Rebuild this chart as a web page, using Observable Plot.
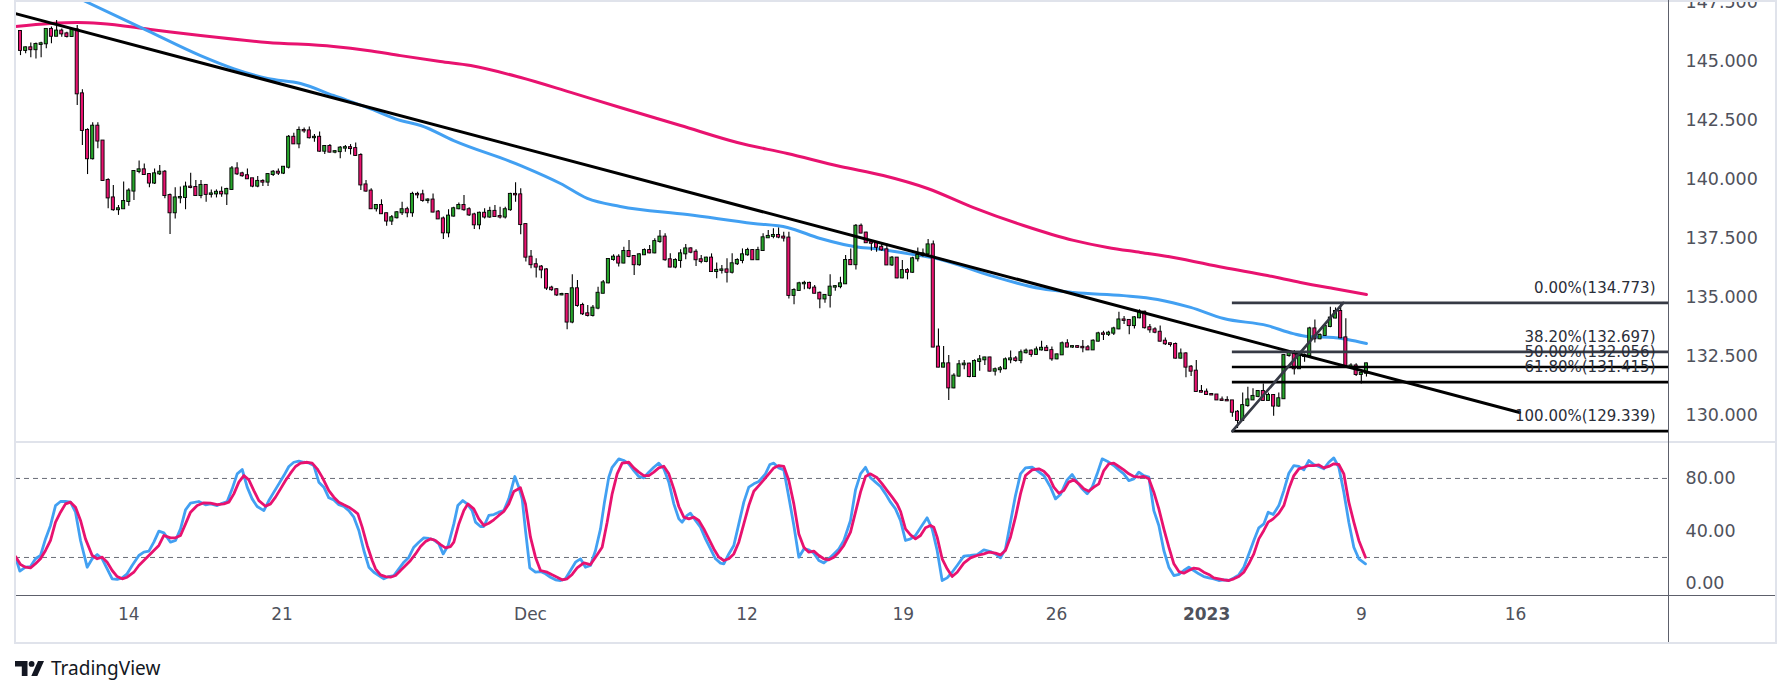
<!DOCTYPE html>
<html><head><meta charset="utf-8">
<script src="https://cdn.jsdelivr.net/npm/d3@7"></script>
<script src="https://cdn.jsdelivr.net/npm/@observablehq/plot@0.6"></script>
<style>
body{margin:0;background:#fff;}
#wrap{position:relative;width:1791px;height:696px;overflow:hidden;background:#fff;}
.abs{position:absolute;}
.ln{position:absolute;}
</style></head><body>
<div id="wrap">
  <div id="price" class="abs" style="left:0;top:0"></div>
  <div id="osc" class="abs" style="left:0;top:442px"></div>
  <div class="ln" style="left:14px;top:0;width:1763px;height:644px;box-sizing:border-box;border:2px solid #e0e3eb;"></div>
  <div class="ln" style="left:16px;top:441px;width:1759px;height:2px;background:#e0e3eb;"></div>
  <div class="ln" style="left:1668px;top:0;width:1px;height:642px;background:#5d606b;"></div>
  <div class="ln" style="left:16px;top:595px;width:1759px;height:1px;background:#5d606b;"></div>
  <div class="abs" style="left:15px;top:657px;display:flex;align-items:center;gap:7px;">
    <svg width="29" height="15" viewBox="0 0 29 15"><path d="M0 0H12.5V15H6.8V5.6H0Z" fill="#131722"/><circle cx="16.6" cy="2.9" r="2.9" fill="#131722"/><path d="M23 0H29L22.3 15H16.3Z" fill="#131722"/></svg>
    <span style="font:19px 'Noto Sans',sans-serif;color:#131722;line-height:22px;">TradingView</span>
  </div>
</div>
<script>
// ---- data (4h USD/JPY candles, bar index 0..261) ----
const firstOpen = 146.27;
const close = [145.47,145.58,145.50,145.72,145.75,146.36,146.07,146.29,146.17,146.06,
146.34,143.63,142.08,140.88,142.26,141.63,139.96,139.22,138.72,138.76,
139.07,139.51,140.34,140.41,140.21,139.85,140.24,140.31,139.32,138.59,
139.22,139.24,139.68,139.66,139.32,139.75,139.37,139.39,139.46,139.39,
139.58,140.45,140.24,140.16,140.03,139.72,139.92,139.89,140.21,140.31,
140.27,140.52,141.79,141.51,142.08,142.06,141.77,141.79,141.20,141.40,
141.16,141.18,141.33,141.35,141.31,141.02,139.77,139.51,138.76,138.90,
138.55,138.24,138.38,138.59,138.72,138.59,139.37,139.35,139.11,139.13,
138.62,138.33,
137.74,138.45,138.76,138.90,138.72,138.50,138.08,138.57,138.41,138.65,
138.43,138.41,138.72,139.37,139.35,138.09,136.71,136.39,136.29,136.17,
135.40,135.33,135.11,135.13,133.96,135.37,134.66,134.31,134.24,134.55,
135.18,135.62,136.61,136.71,136.46,136.95,136.74,136.39,136.81,136.99,
136.89,137.37,137.56,136.60,136.29,136.57,136.85,137.06,136.92,136.60,
136.53,136.67,136.10,136.15,136.17,136.07,136.43,136.57,136.81,136.99,
136.60,136.99,137.53,137.59,137.63,137.56,137.52,135.09,135.30,135.58,
135.60,135.40,135.18,134.94,135.09,135.44,135.46,135.58,136.57,136.39,
138.02,
137.73,137.32,137.30,137.13,137.02,136.38,136.67,135.83,136.14,136.07,
136.64,136.78,136.85,137.23,132.90,132.05,132.19,131.17,131.67,132.15,
132.18,131.65,132.29,132.36,132.44,131.88,131.94,131.98,132.36,132.40,
132.33,132.66,132.73,132.59,132.78,132.85,132.75,132.40,132.57,133.04,
132.90,132.92,132.89,132.87,132.78,133.15,133.46,133.44,133.49,133.67,
134.05,134.03,133.81,134.14,134.38,133.72,133.63,133.53,133.15,133.04,
133.01,132.43,132.61,132.05,131.88,131.02,130.99,130.89,130.87,130.66,
130.64,130.62,130.14,
129.79,130.42,130.66,130.81,131.02,130.64,130.85,130.40,130.71,132.54,
132.64,131.98,132.50,132.54,133.67,133.25,133.39,133.77,134.13,134.41,
133.29,132.08,132.10,131.74,131.79,132.19];
const high = [146.31,145.61,145.78,145.78,145.82,146.38,146.46,146.74,146.38,146.24,
146.38,146.53,143.80,142.15,142.40,142.40,141.65,140.03,139.75,138.90,
139.89,139.61,140.38,140.78,140.66,140.24,140.45,140.59,140.38,139.39,
139.65,139.68,139.89,140.27,139.96,139.96,139.75,139.56,139.56,139.68,
139.63,140.55,140.71,140.31,140.45,140.03,140.13,139.99,140.24,140.38,
140.45,140.55,141.87,141.96,142.22,142.18,142.22,141.91,142.01,141.44,
141.48,141.23,141.40,141.44,141.48,141.55,141.09,139.96,139.61,138.94,
139.14,138.57,138.48,138.64,139.04,138.83,139.46,139.46,139.54,139.18,
139.39,138.69,
138.41,138.72,138.83,139.00,139.32,138.80,138.57,138.62,138.76,138.83,
138.90,138.83,138.83,139.42,139.86,139.61,138.12,136.99,136.64,136.36,
136.22,135.48,135.37,135.18,135.16,135.96,135.72,134.76,134.66,134.66,
135.44,135.72,136.64,136.81,136.81,137.13,137.42,136.78,136.85,137.06,
137.20,137.49,137.84,137.70,136.85,136.64,137.02,137.25,137.11,137.02,
136.78,136.71,136.85,136.46,136.36,136.64,136.85,136.64,137.06,137.09,
137.03,137.13,137.70,137.84,137.91,137.95,137.77,137.77,135.37,135.65,
135.69,135.65,135.51,135.23,135.13,135.96,135.51,135.86,136.78,137.06,
138.09,
138.12,137.77,137.42,137.34,137.25,137.27,136.74,136.70,136.57,136.22,
136.71,137.10,137.06,137.46,137.39,133.67,132.92,132.54,131.77,132.33,
132.33,132.22,132.36,132.54,132.47,132.47,132.01,132.08,132.44,132.73,
132.50,132.78,132.82,132.78,132.90,133.15,132.97,132.90,132.61,133.11,
133.21,132.94,132.94,133.18,132.97,133.21,133.53,133.57,133.57,133.74,
134.38,134.20,134.05,134.20,134.48,134.42,133.86,133.72,133.79,133.29,
133.07,133.07,132.82,132.66,132.12,132.33,131.27,131.12,130.92,130.89,
130.78,130.80,130.64,
130.21,130.95,131.20,131.13,131.06,131.34,130.95,130.89,130.95,132.57,
132.76,132.76,132.68,132.61,133.74,134.05,133.46,133.81,134.59,134.56,
134.77,134.10,132.19,132.19,131.91,132.22];
const low = [145.25,145.33,145.16,145.11,145.16,145.54,145.75,146.07,146.03,146.00,
146.03,143.14,141.44,140.21,140.83,141.30,139.93,138.76,138.66,138.48,
138.83,138.87,139.11,140.24,140.17,139.65,139.79,140.17,139.18,137.67,
138.33,138.97,138.72,139.61,139.28,139.18,139.04,139.22,139.22,139.25,
138.90,139.53,140.17,140.10,140.00,139.65,139.65,139.70,139.70,140.13,
140.17,140.21,140.45,141.48,141.30,141.96,141.72,141.58,141.16,141.06,
141.12,141.09,140.88,141.16,141.04,140.98,139.53,139.46,138.73,138.62,
138.52,138.02,138.05,138.33,138.48,138.38,138.40,139.18,139.04,138.97,
138.59,138.31,
137.46,137.53,138.41,138.72,138.66,138.43,137.88,137.87,138.33,138.36,
138.41,138.33,138.33,138.66,139.04,137.66,136.50,136.22,135.83,135.79,
135.30,135.27,135.04,135.07,133.63,133.89,134.59,134.24,134.17,134.17,
134.48,135.16,135.58,136.54,136.29,136.43,136.68,135.93,136.33,136.78,
136.85,136.85,137.30,136.54,136.26,136.22,136.24,136.60,136.85,136.31,
136.43,136.47,136.07,135.79,136.00,135.61,136.00,136.36,136.43,136.75,
136.57,136.57,136.95,137.53,137.49,137.49,137.35,134.94,134.69,135.27,
135.33,135.33,135.16,134.52,134.76,134.56,135.27,135.37,135.55,136.36,
136.17,
137.70,137.30,136.96,136.92,136.96,136.36,136.31,135.79,135.79,135.75,
136.03,136.50,136.71,136.78,132.87,132.02,132.02,130.64,131.13,131.62,
131.94,131.60,131.62,131.88,132.12,131.84,131.67,131.79,131.94,132.19,
132.26,132.19,132.61,132.47,132.54,132.73,132.71,132.30,132.36,132.54,
132.87,132.85,132.85,132.66,132.75,132.75,133.11,133.18,133.35,133.39,
133.63,133.86,133.42,133.67,134.10,133.67,133.49,133.46,133.11,132.97,
132.90,132.40,132.40,131.60,131.65,130.99,130.95,130.85,130.85,130.64,
130.61,130.61,129.93,
129.45,129.79,130.35,130.64,130.75,130.61,130.61,129.97,130.35,130.68,
132.47,131.72,131.95,132.26,132.50,133.07,133.21,133.35,133.72,134.10,
133.25,132.05,131.98,131.65,131.34,131.63];
// each forex 4h candle opens at the previous candle's close
const open = [firstOpen, ...close.slice(0, -1)];

// moving averages: [bar index, price]
const maSlow = [[-0.97,146.48],[5.82,146.61],[11.05,146.65],[15.51,146.61],[25.2,146.36],[34.9,146.10],[47.9,145.81],[60.7,145.64],[67.3,145.47],[73.7,145.25],[81.4,145.00],[87.3,144.83],[97.0,144.32],[106.7,143.69],[116.3,143.05],[128.0,142.29],[139.0,141.57],[148.7,141.10],[159.0,140.55],[167.3,140.17],[175.9,139.62],[184.8,138.81],[194.5,138.05],[204.2,137.42],[210.8,137.12],[217.2,136.91],[223.6,136.70],[233.3,136.27],[241.8,135.93],[248.2,135.64],[254.6,135.38],[261.0,135.13]];
const maFast = [[0,148.86],[12.2,147.585],[24.6,146.31],[34.9,145.25],[41.3,144.70],[47.9,144.28],[54.3,144.07],[60.7,143.56],[67.3,143.05],[73.7,142.50],[77.6,142.29],[84.0,141.65],[97.0,140.59],[104.7,139.83],[109.9,139.20],[116.3,138.86],[129.3,138.52],[142.1,138.14],[148.7,137.97],[155.1,137.50],[162.9,137.12],[165.4,137.08],[172.0,136.86],[178.4,136.61],[188.1,135.93],[197.8,135.38],[204.2,135.21],[213.9,135.08],[220.5,134.92],[226.9,134.58],[233.3,134.11],[241.8,133.81],[246.8,133.47],[249.6,133.35],[254.6,133.31],[257.3,133.22],[261.0,133.05]];
const trendLine = [[-0.97,147.03],[290.7,130.13]];
const fibStart = 235;
const fibPct = [0, 38.2, 50, 61.8, 100];
const fibVal = [134.773, 132.697, 132.056, 131.415, 129.339];
const fibDiag = [[235,129.339],[256.5,134.773]];

// stochastic %K (blue) and %D (pink): [bar index, value]
const stochK = [[-0.97,20.2],[-0.13,9.6],[0.97,12.6],[1.94,13.1],[2.91,19.0],[3.88,21.5],[4.85,34.1],[5.82,44.3],[6.79,59.4],[7.76,62.5],[8.73,62.5],[9.7,62.0],[10.67,54.4],[11.64,32.9],[12.93,12.6],[13.9,19.0],[14.87,22.2],[15.84,19.0],[16.81,11.4],[17.78,3.8],[18.75,3.3],[19.72,4.5],[20.68,7.6],[21.65,13.9],[22.95,21.5],[23.92,24.0],[24.89,24.8],[25.86,31.6],[26.83,40.0],[27.8,38.7],[29.09,31.6],[30.06,32.9],[31.03,41.7],[32.0,56.2],[32.97,61.2],[34.58,62.5],[35.88,60.0],[36.85,60.7],[38.14,59.4],[39.11,61.2],[40.08,62.5],[41.05,72.1],[42.02,83.5],[42.99,86.8],[43.96,73.4],[44.92,64.5],[45.89,58.7],[47.19,55.6],[48.16,63.2],[49.13,69.6],[50.1,75.9],[51.07,82.2],[52.04,89.1],[53.0,92.3],[53.97,93.1],[54.94,92.3],[55.91,91.8],[56.88,89.8],[57.85,77.2],[58.82,73.4],[59.79,65.3],[60.76,63.7],[61.73,60.0],[62.7,58.7],[63.67,55.6],[64.64,50.6],[65.61,40.5],[66.58,25.3],[67.55,12.6],[68.52,8.8],[69.49,6.3],[70.46,3.8],[71.43,5.5],[72.4,6.3],[73.37,11.4],[74.34,16.4],[75.31,20.2],[76.27,27.8],[77.24,31.6],[78.21,34.9],[79.18,34.4],[80.15,33.4],[81.12,30.3],[81.96,22.7],[82.93,29.1],
[84.03,45.5],[84.8,59.4],[85.77,63.2],[86.61,60.7],[87.58,55.6],[88.23,46.8],[89.2,43.5],[89.84,43.5],[90.81,51.9],[91.78,52.6],[92.75,54.4],[93.72,55.6],[94.69,64.5],[95.86,81.5],[96.63,73.4],[97.28,64.5],[97.92,40.5],[98.76,12.1],[99.86,8.8],[100.83,9.3],[101.8,7.6],[102.77,5.0],[103.74,3.0],[104.71,2.5],[105.68,3.8],[106.65,10.1],[107.62,16.4],[108.59,19.0],[109.56,12.6],[110.53,13.9],[111.5,25.3],[112.47,41.7],[113.24,62.0],[114.08,81.0],[114.73,88.5],[116.02,94.9],[116.99,93.6],[117.96,91.1],[118.93,86.0],[119.9,81.5],[120.87,80.5],[121.84,84.8],[122.81,88.5],[123.78,91.6],[124.75,87.3],[125.72,77.2],[126.69,60.7],[127.66,49.3],[128.3,46.8],[129.27,51.9],[129.92,53.6],[130.89,48.1],[131.86,43.0],[132.83,34.1],[133.8,26.5],[134.77,19.0],[135.74,15.7],[136.38,15.2],[137.35,22.7],[138.32,29.1],[139.29,45.5],[140.26,62.0],[141.23,73.4],[142.2,75.9],[143.17,77.7],[144.46,83.5],[145.31,90.6],[146.08,91.6],[147.05,88.0],[148.02,86.5],[148.99,65.8],[149.96,44.3],[150.93,20.2],[151.9,26.5],[152.87,25.8],[153.84,23.3],[154.81,17.7],[155.78,15.9],[156.75,19.0],[157.72,22.7],[158.69,26.5],[159.66,32.9],[160.95,48.1],[161.92,71.3],[162.89,83.5],[163.86,88.5],[164.83,80.5],[165.8,77.2],[166.77,73.9],[167.74,68.3],[168.71,62.0],[169.67,56.9],[170.64,48.1],
[171.61,32.9],[172.58,34.1],[173.55,36.7],[174.52,42.5],[175.81,50.1],[176.78,41.7],[177.75,25.3],[178.72,2.5],[179.69,4.5],[180.66,8.8],[181.63,13.9],[182.92,21.0],[184.21,21.5],[185.51,22.2],[186.8,25.8],[188.09,24.5],[189.06,22.7],[190.03,19.7],[191.0,26.5],[191.97,46.8],[192.94,67.0],[193.91,83.5],[194.88,88.0],[196.17,88.5],[197.14,86.0],[198.44,82.2],[199.73,73.4],[200.7,64.5],[201.67,67.8],[202.96,78.9],[203.93,83.0],[204.9,77.2],[205.87,72.1],[206.84,68.3],[207.81,73.4],[208.78,83.5],[209.75,94.9],[210.72,93.1],[212.01,89.8],[212.98,86.5],[213.95,83.5],[214.92,78.4],[215.89,79.7],[216.86,84.8],[217.83,82.2],[218.8,81.0],[219.77,55.6],[220.74,44.3],[221.71,25.3],[222.68,12.6],[223.65,6.3],[224.62,7.1],[225.58,10.1],[226.55,12.6],[227.52,10.1],[228.49,7.6],[229.46,5.5],[230.43,4.5],[231.4,3.8],[232.37,2.5],[233.34,3.0],[234.31,2.5],[235.28,4.5],[236.25,6.8],[237.22,12.6],[238.19,22.7],[239.16,32.9],[240.13,42.5],[241.1,45.5],[241.94,54.4],[242.91,52.6],[244.01,59.4],[244.98,70.8],[245.95,84.0],[246.92,89.8],[247.89,89.1],[248.86,86.5],[249.82,93.6],[250.79,90.6],[251.76,89.1],[252.73,87.3],[253.7,92.3],[254.67,95.6],[255.64,88.5],[256.61,69.6],[257.58,46.8],[258.55,27.8],[259.52,19.0],[260.81,15.2]];
const stochD = [[-0.97,20.7],[0.0,14.6],[0.97,12.6],[1.94,12.1],[2.91,15.2],[3.88,19.0],[4.85,25.3],[5.82,32.9],[6.79,46.8],[7.76,54.4],[8.73,60.7],[9.7,62.0],[10.67,58.2],[11.64,48.1],[12.6,34.1],[13.9,21.5],[14.87,19.0],[15.84,20.2],[16.81,16.4],[17.78,10.1],[18.75,5.5],[19.72,3.8],[20.68,5.0],[21.98,8.8],[22.95,13.9],[23.92,17.7],[24.89,21.5],[25.86,25.3],[26.83,29.1],[27.8,36.7],[29.09,34.9],[30.06,34.9],[31.03,36.7],[32.0,45.5],[32.97,54.4],[34.26,59.4],[35.55,61.5],[36.85,61.2],[38.14,60.2],[39.43,60.7],[40.4,62.0],[41.37,68.3],[42.34,77.2],[43.31,82.2],[44.28,78.9],[45.25,70.8],[46.22,63.2],[47.51,58.9],[48.48,60.7],[49.45,65.8],[50.42,72.1],[51.39,78.4],[52.36,84.0],[53.33,89.1],[54.3,91.6],[55.59,92.3],[56.56,91.6],[57.53,87.3],[58.5,81.0],[59.79,70.8],[60.76,65.8],[61.73,62.0],[62.7,60.0],[63.67,58.2],[64.64,55.6],[65.42,53.1],[66.26,43.0],[67.23,29.1],[68.2,17.7],[68.84,11.4],[69.81,6.8],[70.78,5.5],[71.75,5.0],[72.72,6.3],[73.69,10.1],[74.66,13.9],[75.63,17.7],[76.6,22.7],[77.57,28.3],[78.54,32.1],[79.51,34.1],[80.48,32.9],[81.45,29.8],[82.42,27.3],
[83.38,28.3],[84.03,31.6],[85.0,45.5],[85.97,55.6],[86.74,60.7],[87.9,56.9],[88.87,49.3],[89.84,44.3],[90.81,46.0],[91.78,48.6],[92.75,51.9],[93.72,54.9],[94.69,60.7],[95.66,70.1],[96.95,72.9],[97.92,60.7],[98.89,35.4],[99.86,20.2],[100.83,10.1],[102.13,8.8],[103.1,6.8],[104.06,5.0],[105.03,3.0],[106.0,3.8],[106.97,7.1],[107.94,12.1],[109.24,15.9],[110.53,14.6],[111.5,20.2],[112.79,27.8],[113.76,46.8],[114.73,68.3],[115.7,83.5],[116.67,91.6],[117.96,92.3],[118.93,88.0],[119.9,84.8],[120.87,82.2],[121.84,82.2],[122.81,84.8],[123.78,88.0],[124.75,89.3],[125.72,83.5],[126.69,72.1],[127.66,58.7],[128.63,50.6],[129.6,49.3],[130.57,50.6],[131.54,48.1],[132.51,41.7],[133.48,34.1],[134.45,26.5],[135.42,20.2],[136.38,17.7],[137.35,19.0],[138.32,22.7],[139.29,31.6],[140.26,45.5],[141.23,59.4],[142.2,70.3],[143.17,74.6],[144.14,78.9],[145.11,83.5],[146.08,88.0],[147.05,89.8],[148.02,89.1],[148.99,78.4],[149.96,60.7],[150.93,37.9],[151.9,27.8],[152.87,24.0],[153.84,24.8],[154.81,21.5],[155.78,19.0],[156.75,18.2],[157.72,20.2],[158.69,24.0],[159.66,29.1],[160.95,39.2],[161.92,54.4],[162.89,69.6],[163.86,81.5],[164.83,83.5],[166.12,80.5],[167.09,75.9],[168.06,70.8],[169.03,65.8],[170.0,60.5],
[170.64,55.1],[171.61,41.7],[172.58,37.2],[173.55,34.1],[174.52,36.7],[175.49,42.5],[176.46,44.3],[177.1,43.0],[177.75,35.4],[178.72,19.0],[179.69,11.4],[180.66,5.5],[181.63,8.8],[182.92,15.7],[184.21,19.7],[185.51,21.5],[186.8,22.7],[187.77,24.0],[189.06,23.3],[190.03,22.0],[191.0,25.3],[191.97,35.4],[192.94,50.6],[193.91,68.3],[194.88,82.2],[196.17,86.5],[197.47,87.3],[198.44,85.5],[199.41,81.5],[200.37,73.4],[201.34,68.8],[202.31,70.8],[203.28,77.2],[204.25,78.9],[205.22,75.9],[206.19,72.1],[207.16,70.3],[208.13,73.4],[209.1,75.9],[210.07,86.0],[211.04,91.1],[212.01,91.6],[212.98,89.1],[213.95,86.5],[214.92,83.5],[215.89,81.5],[216.86,81.0],[217.83,81.5],[218.8,79.7],[219.77,69.6],[220.74,56.9],[221.71,41.7],[222.68,27.8],[223.65,15.2],[224.62,9.3],[225.58,8.1],[226.55,10.1],[227.52,11.9],[228.49,11.4],[229.46,8.8],[230.43,7.1],[231.4,4.5],[232.37,3.8],[233.34,3.0],[234.31,2.5],[235.28,3.8],[236.25,5.5],[237.22,8.8],[238.19,15.2],[239.16,22.7],[240.13,34.1],[241.1,40.5],[241.94,46.8],[242.91,49.3],[244.01,53.6],[244.98,59.4],[245.95,72.1],[246.92,82.2],[247.89,87.3],[248.86,88.5],[249.82,89.8],[250.79,89.8],[251.76,90.3],[252.73,88.0],[253.7,89.1],[254.67,91.1],[255.64,90.6],[256.61,83.5],[257.58,62.0],[258.55,46.8],[259.52,32.9],[260.81,20.2]];

// axes
const priceTicks = [130, 132.5, 135, 137.5, 140, 142.5, 145, 147.5];
const oscTicks = [0, 40, 80];
const oscLevels = [20, 80];
const xTickIdx = [21, 50.7, 98.9, 140.9, 171.2, 200.9, 230, 260, 289.9];
const xTickLab = ["14", "21", "Dec", "12", "19", "26", "2023", "9", "16"];

// ---- chart ----
const GREEN = "#27a52b", PINK = "#e8126f", BLUE = "#42a0f2", AXIS = "#4f525c";
const FONT = '"DejaVu Sans", sans-serif';
const xDomain = [-0.97, 319.57];
const bars = close.map((c, k) => ({i: k, o: open[k], h: high[k], l: low[k], c}));
const fib = fibPct.map((pct, k) => ({pct, p: fibVal[k]}));
const xTicks = xTickIdx.map((i, k) => ({i, label: xTickLab[k]}));
const isYear = d => /^\d{4}$/.test(d.label);
const px = d => d[0], py = d => d[1];

const pricePlot = Plot.plot({
  width: 1791, height: 442,
  marginTop: 0, marginBottom: 0, marginLeft: 15, marginRight: 123,
  style: {background: "transparent", fontFamily: FONT},
  x: {domain: xDomain, axis: null},
  y: {domain: [128.857, 147.585], axis: null},
  color: {type: "identity"},
  marks: [
    Plot.line(maSlow, {x: px, y: py, stroke: PINK, strokeWidth: 3, curve: "monotone-x", clip: true}),
    Plot.line(maFast, {x: px, y: py, stroke: BLUE, strokeWidth: 3, curve: "monotone-x", clip: true}),
    Plot.ruleX(bars, {x: "i", y1: "l", y2: "h", stroke: "#000", strokeWidth: 1.1, clip: true}),
    Plot.rect(bars, {x1: d => d.i - 0.3, x2: d => d.i + 0.3, y1: "o", y2: "c",
      fill: d => d.c >= d.o ? GREEN : PINK, stroke: "#000", strokeWidth: 0.9,
      insetTop: -0.5, insetBottom: -0.5, clip: true}),
    Plot.line(trendLine, {x: px, y: py, stroke: "#000", strokeWidth: 3, clip: true}),
    Plot.ruleY(fib, {y: "p", x1: () => fibStart, x2: () => xDomain[1],
      stroke: (d, k) => k < 2 ? "#363a45" : "#000", strokeWidth: 2.7}),
    Plot.line(fibDiag, {x: px, y: py, stroke: "#363a45", strokeWidth: 2.7}),
    Plot.text(fib, {y: "p", text: d => `${d.pct.toFixed(2)}%(${d.p.toFixed(3)})`,
      frameAnchor: "right", dx: -13, dy: -10, lineAnchor: "bottom", textAnchor: "end",
      fontSize: 15, fill: "#2a2e39"}),
    Plot.text(priceTicks, {y: d => d, text: d => d.toFixed(3), frameAnchor: "right",
      dx: 17, textAnchor: "start", fontSize: 17.5, fill: AXIS})
  ]
});
document.getElementById("price").appendChild(pricePlot);

const oscPlot = Plot.plot({
  width: 1791, height: 200,
  marginTop: 0, marginBottom: 47, marginLeft: 15, marginRight: 123,
  style: {background: "transparent", fontFamily: FONT},
  x: {domain: xDomain, axis: null},
  y: {domain: [-8.88, 107.3], axis: null},
  marks: [
    Plot.ruleY(oscLevels, {stroke: "#6a6d78", strokeWidth: 1, strokeDasharray: "5,4"}),
    Plot.line(stochK, {x: px, y: py, stroke: BLUE, strokeWidth: 2.8, clip: true}),
    Plot.line(stochD, {x: px, y: py, stroke: PINK, strokeWidth: 2.8, clip: true}),
    Plot.text(oscTicks, {y: d => d, text: d => d.toFixed(2), frameAnchor: "right",
      dx: 17, textAnchor: "start", fontSize: 17.5, fill: AXIS}),
    Plot.text(xTicks, {filter: d => !isYear(d), x: "i", text: "label", frameAnchor: "bottom",
      dy: 24, fontSize: 17, fill: AXIS}),
    Plot.text(xTicks, {filter: isYear, x: "i", text: "label", frameAnchor: "bottom",
      dy: 24, fontSize: 17, fontWeight: "bold", fill: AXIS})
  ]
});
document.getElementById("osc").appendChild(oscPlot);
</script>
</body></html>
